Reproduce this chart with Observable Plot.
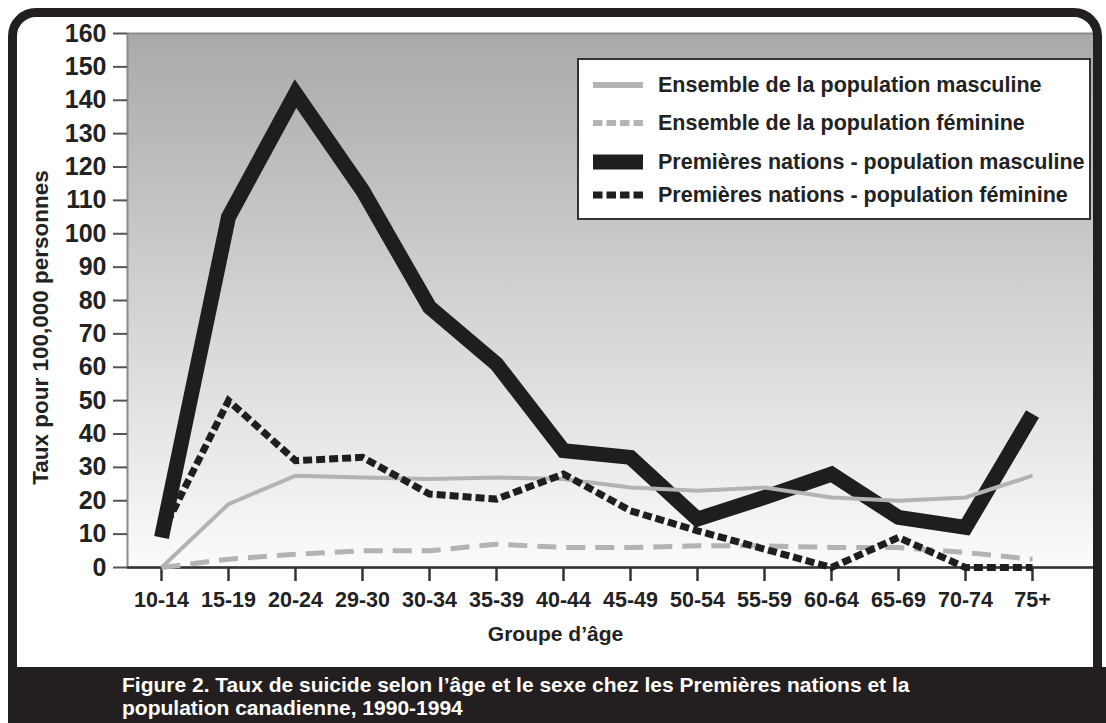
<!DOCTYPE html>
<html>
<head>
<meta charset="utf-8">
<script src="https://cdn.jsdelivr.net/npm/d3@7"></script>
<script src="https://cdn.jsdelivr.net/npm/@observablehq/plot@0.6"></script>
<style>
  html, body { margin: 0; padding: 0; background: #fff; }
  #wrap { position: relative; width: 1106px; height: 723px; overflow: hidden; background: #fff;
          font-family: "Liberation Sans", Arial, sans-serif; font-weight: bold; color: #222; }
  #chart { position: absolute; left: 0; top: 0; }
  #frame { position: absolute; left: 8px; top: 8px; width: 1094px; height: 800px; box-sizing: border-box;
           border: 9px solid #231f20; border-radius: 28px 28px 0 0; pointer-events: none; }
  #caption { position: absolute; left: 8px; top: 667px; width: 1098px; height: 56px; background: #231f20;
             color: #fff; font-size: 21px; line-height: 23px; box-sizing: border-box; padding: 6px 0 0 114px; }
  #legend { position: absolute; left: 577px; top: 58px; width: 514px; height: 162px; box-sizing: border-box;
            border: 2px solid #333; background: #fff; }
  .lrow { position: absolute; left: 0; height: 26px; line-height: 26px; font-size: 21.5px; white-space: nowrap; }
  .lrow svg { position: absolute; left: 14px; top: 5px; }
  .lrow span { position: absolute; left: 79px; top: 0; }
</style>
</head>
<body>
<div id="wrap">
  <div id="chart"></div>
  <div id="legend"></div>
  <div id="frame"></div>
  <div id="caption"></div>
</div>
<script>
// ---- Data ----
const ages = ["10-14","15-19","20-24","29-30","30-34","35-39","40-44","45-49","50-54","55-59","60-64","65-69","70-74","75+"];
const ensembleMasc = [0, 19, 27.5, 27, 26.5, 27, 26.5, 24, 23, 24, 21, 20, 21, 27.5];
const ensembleFem  = [0, 2.5, 4, 5, 5, 7, 6, 6, 6.5, 6.5, 6, 6, 4.5, 2.5];
const pnMasc       = [9, 105, 142, 113, 78, 61, 35, 33, 14.5, 21, 28, 15, 12, 46];
const pnFem        = [10, 50, 32, 33, 22, 20.5, 28, 17, 11, 5.5, 0, 9, 0, 0];
const yTicks = d3.range(0, 161, 10);
const seriesNames = [
  "Ensemble de la population masculine",
  "Ensemble de la population féminine",
  "Premières nations - population masculine",
  "Premières nations - population féminine"
];
const yTitle = "Taux pour 100,000 personnes";
const xTitle = "Groupe d’âge";
const captionLines = [
  "Figure 2. Taux de suicide selon l’âge et le sexe chez les Premières nations et la",
  "population canadienne, 1990-1994"
];

// ---- Styles per series ----
const styles = [
  {stroke: "#b3b3b3", strokeWidth: 4,  strokeDasharray: null},
  {stroke: "#b3b3b3", strokeWidth: 5,  strokeDasharray: "19,10"},
  {stroke: "#1e1e1e", strokeWidth: 15, strokeDasharray: null},
  {stroke: "#1e1e1e", strokeWidth: 7,  strokeDasharray: "9,4"}
];

const rows = ages.map((a, i) => ({age: a, em: ensembleMasc[i], ef: ensembleFem[i], pm: pnMasc[i], pf: pnFem[i]}));

const lineOpts = (k, s) => ({x: "age", y: k, stroke: s.stroke, strokeWidth: s.strokeWidth,
  strokeDasharray: s.strokeDasharray ?? undefined, strokeLinejoin: "miter", strokeLinecap: "butt", strokeMiterlimit: 10});

const svg = Plot.plot({
  width: 1106, height: 667,
  marginLeft: 127, marginRight: 11, marginTop: 33, marginBottom: 100,
  style: {fontFamily: "'Liberation Sans', Arial, sans-serif", fontWeight: "bold", color: "#222", background: "transparent", overflow: "visible"},
  x: {type: "point", domain: ages, range: [155, 1037], padding: 0},
  y: {domain: [0, 160]},
  marks: [
    Plot.frame({fill: "url(#bg)", stroke: "#8a8a8a", strokeWidth: 2}),
    Plot.axisY({ticks: yTicks, tickSize: 14, tickPadding: 7, fontSize: 25, label: null, stroke: "#555", strokeWidth: 2, fill: "#222"}),
    Plot.axisX({tickSize: 14, tickPadding: 10, fontSize: 21.5, label: null, stroke: "#333", strokeWidth: 2.5, fill: "#222"}),
    Plot.ruleY([0], {stroke: "#333", strokeWidth: 2.5}),
    Plot.line(rows, lineOpts("pm", styles[2])),
    Plot.line(rows, lineOpts("em", styles[0])),
    Plot.line(rows, lineOpts("ef", styles[1])),
    Plot.line(rows, lineOpts("pf", styles[3])),
    Plot.text([yTitle], {text: d => d, frameAnchor: "left", textAnchor: "middle", lineAnchor: "middle", dx: -87, dy: 27, rotate: -90, fontSize: 22.5, fontWeight: "bold", fill: "#222"}),
    Plot.text([xTitle], {text: d => d, frameAnchor: "bottom", textAnchor: "middle", lineAnchor: "middle", dx: -56, dy: 67, fontSize: 21, fontWeight: "bold", fill: "#222"})
  ]
});

// gradient background for the plotting area
const grad = d3.select(svg).insert("defs", ":first-child").append("linearGradient")
  .attr("id", "bg").attr("x1", 0).attr("y1", 0).attr("x2", 0).attr("y2", 1);
grad.append("stop").attr("offset", "0%").attr("stop-color", "#a9a9a9");
grad.append("stop").attr("offset", "100%").attr("stop-color", "#fbfbfb");

document.getElementById("chart").appendChild(svg);

// ---- Legend (HTML) ----
const legend = d3.select("#legend");
const rowCenters = [25, 63, 102, 135];
seriesNames.forEach((name, i) => {
  const s = styles[i];
  const row = legend.append("div").attr("class", "lrow").style("top", (rowCenters[i] - 13) + "px");
  const sw = row.append("svg").attr("width", 50).attr("height", 16);
  const h = i === 2 ? 15 : (i === 3 ? 7 : 6);
  sw.append("line").attr("x1", 0).attr("x2", 50).attr("y1", 8).attr("y2", 8)
    .attr("stroke", s.stroke).attr("stroke-width", h)
    .attr("stroke-dasharray", i === 1 || i === 3 ? "9.5,4" : null);
  row.append("span").text(name);
});

// ---- Caption ----
d3.select("#caption").selectAll("div").data(captionLines).join("div").text(d => d);
</script>
</body>
</html>
